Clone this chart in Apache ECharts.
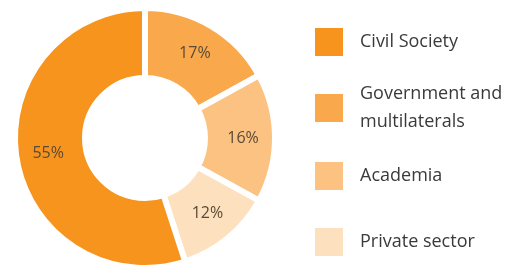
<!DOCTYPE html>
<html>
<head>
<meta charset="utf-8">
<script src="https://cdn.jsdelivr.net/npm/echarts@6/dist/echarts.min.js"></script>
<style>
  html, body { margin: 0; padding: 0; background: #fff; }
  #chart { width: 512px; height: 273px; }
</style>
</head>
<body>
<div id="chart"></div>
<script>
// data
var sectors = ['Civil Society', 'Government and multilaterals', 'Academia', 'Private sector'];
var shares = [55, 17, 16, 12];
var colors = ['#f7941d', '#f9a94c', '#fbc282', '#fde0bd'];

// legend text, government label wraps to 2 lines
var legendText = {
  'Civil Society': 'Civil Society',
  'Government and multilaterals': 'Government and\nmultilaterals',
  'Academia': 'Academia',
  'Private sector': 'Private sector'
};
var legendTops = [26, 80, 160, 226];

function getOption() {
  // pie goes clockwise from the top, civil society comes last
  var order = [1, 2, 3, 0];
  var pieData = order.map(function (i) {
    return {
      name: sectors[i],
      value: shares[i],
      itemStyle: { color: colors[i] }
    };
  });

  // one legend per item so each row can sit where it should
  var legends = sectors.map(function (name, i) {
    return {
      data: [name],
      orient: 'vertical',
      left: 313,
      top: legendTops[i],
      padding: 0,
      itemWidth: 30,
      itemHeight: 30,
      itemGap: 0,
      icon: 'rect',
      selectedMode: false,
      formatter: function (n) { return legendText[n]; },
      textStyle: {
        fontFamily: 'Open Sans',
        fontSize: 18,
        color: '#3a3a3a',
        lineHeight: 28,
        padding: [0, 0, 0, 11]
      }
    };
  });

  var option = {
    backgroundColor: '#fff',
    animation: false,
    legend: legends,
    series: [
      {
        type: 'pie',
        center: [145, 138],
        radius: [60, 130],
        startAngle: 90,
        clockwise: true,
        itemStyle: {
          borderColor: '#fff',
          borderWidth: 6
        },
        label: {
          show: true,
          position: 'inside',
          formatter: '{c}%',
          fontFamily: 'Open Sans',
          fontSize: 16,
          color: '#5a4a36'
        },
        labelLine: { show: false },
        emphasis: { disabled: true },
        data: pieData
      }
    ]
  };
  return option;
}

var chart = echarts.init(document.getElementById('chart'));
chart.setOption(getOption());
</script>
</body>
</html>
